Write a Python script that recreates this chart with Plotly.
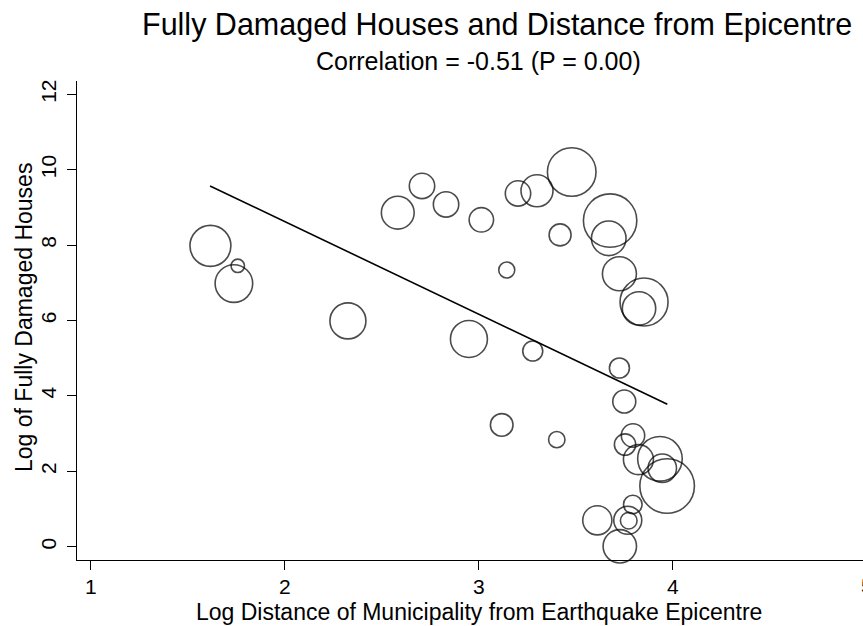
import plotly.graph_objects as go

# ---- data ----
log_distance = [1.616, 1.757, 1.737, 2.325, 2.582, 2.707, 2.831, 3.013, 2.949, 3.202,
                3.300, 3.479, 3.419, 3.144, 3.677, 3.670, 3.725, 3.852, 3.826, 3.278,
                3.725, 3.750, 3.118, 3.402, 3.795, 3.754, 3.823, 3.934, 3.946, 3.971,
                3.794, 3.611, 3.768, 3.773, 3.727]
log_damaged = [7.98, 7.45, 6.98, 5.99, 8.86, 9.57, 9.08, 8.67, 5.51, 9.37,
               9.44, 9.94, 8.27, 7.34, 8.65, 8.18, 7.24, 6.49, 6.32, 5.19,
               4.74, 3.85, 3.23, 2.84, 2.95, 2.71, 2.31, 2.33, 2.08, 1.61,
               1.12, 0.70, 0.70, 0.69, 0.01]
bubble_weight = [420, 45, 353, 324, 269, 161, 161, 149, 342, 161,
                 256, 590, 121, 64, 713, 299, 289, 576, 279, 100,
                 100, 132, 128, 67, 137, 114, 225, 497, 202, 745,
                 86, 213, 196, 69, 279]
fit_x = [1.614, 3.972]
fit_y = [9.57, 3.78]
x_ticks = [1, 2, 3, 4]
y_ticks = [0, 2, 4, 6, 8, 10, 12]

title_text = "Fully Damaged Houses and Distance from Epicentre"
subtitle_text = "Correlation = -0.51 (P = 0.00)"
x_title = "Log Distance of Municipality from Earthquake Epicentre"
y_title = "Log of Fully Damaged Houses"

FONT = "Liberation Sans, Arial, Helvetica, sans-serif"
W, H = 863, 626
L, R, T, B = 77, 0, 81, 66
PW, PH = W - L - R, H - T - B
TICK_FONT = 21

def px(x):
    return (x - L) / PW

def py(y):
    return (H - B - y) / PH

fig = go.Figure()
fig.add_trace(go.Scatter(
    x=log_distance, y=log_damaged, mode="markers",
    marker=dict(size=bubble_weight, sizemode="area", sizeref=0.5,
                color="rgba(0,0,0,0)", line=dict(color="black", width=1.6)),
    hoverinfo="x+y", showlegend=False, cliponaxis=False))
fig.add_trace(go.Scatter(
    x=fit_x, y=fit_y, mode="lines", line=dict(color="black", width=1.6),
    showlegend=False))

fig.update_layout(
    width=W, height=H,
    margin=dict(l=L, r=R, t=T, b=B, pad=0),
    paper_bgcolor="white", plot_bgcolor="white",
    font=dict(family=FONT, color="black", size=TICK_FONT),
    xaxis=dict(range=[0.928, 4.981], tickvals=x_ticks, ticktext=[str(v) for v in x_ticks],
               showgrid=False, zeroline=False, showline=True, linecolor="black", linewidth=1,
               ticks="outside", ticklen=9, tickwidth=1, tickcolor="black",
               ticklabelstandoff=-1,
               tickfont=dict(size=TICK_FONT, family=FONT, color="black")),
    yaxis=dict(range=[-0.353, 12.353], tickvals=y_ticks, ticktext=[str(v) for v in y_ticks],
               showgrid=False, zeroline=False, showline=True, linecolor="black", linewidth=1,
               ticks="outside", ticklen=9, tickwidth=1, tickcolor="black", tickangle=-90,
               ticklabelstandoff=3,
               tickfont=dict(size=TICK_FONT, family=FONT, color="black")),
)

ann = []
ann.append(dict(text=title_text, xref="paper", yref="paper", x=px(497), y=py(24),
                xanchor="center", yanchor="middle", showarrow=False,
                font=dict(size=30.5, family=FONT, color="black")))
ann.append(dict(text=subtitle_text, xref="paper", yref="paper", x=px(478), y=py(61),
                xanchor="center", yanchor="middle", showarrow=False,
                font=dict(size=25, family=FONT, color="black")))
ann.append(dict(text=x_title, xref="paper", yref="paper", x=px(479), y=py(612),
                xanchor="center", yanchor="middle", showarrow=False,
                font=dict(size=23, family=FONT, color="black")))
ann.append(dict(text=y_title, xref="paper", yref="paper", x=px(24), y=py(318),
                xanchor="center", yanchor="middle", showarrow=False, textangle=-90,
                font=dict(size=23, family=FONT, color="black")))
ann.append(dict(text="5", xref="paper", yref="paper", x=px(866.6), y=py(585),
                xanchor="center", yanchor="middle", showarrow=False,
                font=dict(size=TICK_FONT, family=FONT, color="black")))
fig.update_layout(annotations=ann)

fig.write_html("out.html", config={"displayModeBar": False},
               post_script="document.body.style.margin='0px';document.body.style.padding='0px';document.body.style.overflow='hidden';")
